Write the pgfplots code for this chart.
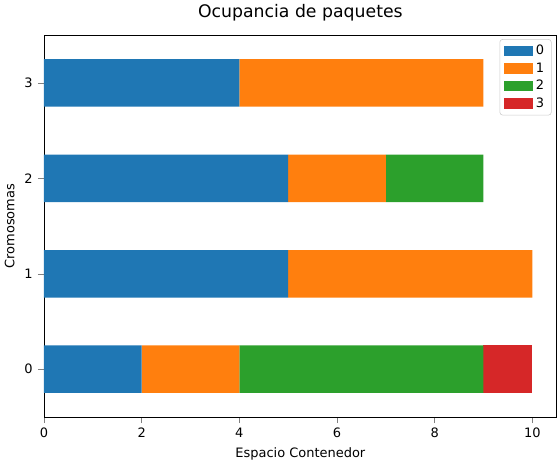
\documentclass[border=0pt]{standalone}
\usepackage{pgfplots}
\pgfplotsset{compat=1.18}
\usepackage{fontspec}
\setmainfont{DejaVu Sans}
\definecolor{c0}{HTML}{1F77B4}
\definecolor{c1}{HTML}{FF7F0E}
\definecolor{c2}{HTML}{2CA02C}
\definecolor{c3}{HTML}{D62728}
\begin{document}
\begin{tikzpicture}
\begin{axis}[
  scale only axis, width=356pt, height=265pt,
  xbar stacked, bar width=33pt,
  xmin=0, xmax=10.5, ymin=-0.5, ymax=3.5,
  ytick={0,1,2,3}, xtick={0,2,4,6,8,10},
  /pgf/number format/assume math mode=true,
  tick label style={font=\small},
  title={Ocupancia de paquetes}, title style={font=\large},
  xlabel={Espacio Contenedor}, ylabel={Cromosomas},
  label style={font=\small},
  legend style={at={(0.99,0.99)}, anchor=north east, font=\small, draw=black!20, rounded corners=2pt},
  legend cell align=left,
  legend image code/.code={\fill[#1, draw=none, sharp corners] (0pt,-3.5pt) rectangle (20pt,3.5pt);},
  axis line style={black}, tick align=outside,
  xtick pos=bottom, ytick pos=left,
]
\addplot[fill=c0, draw=none] coordinates {(2,0) (5,1) (5,2) (4,3)};
\addplot[fill=c1, draw=none] coordinates {(2,0) (5,1) (2,2) (5,3)};
\addplot[fill=c2, draw=none] coordinates {(5,0) (0,1) (2,2) (0,3)};
\addplot[fill=c3, draw=none] coordinates {(1,0) (0,1) (0,2) (0,3)};
\legend{0,1,2,3}
\end{axis}
\end{tikzpicture}
\end{document}
